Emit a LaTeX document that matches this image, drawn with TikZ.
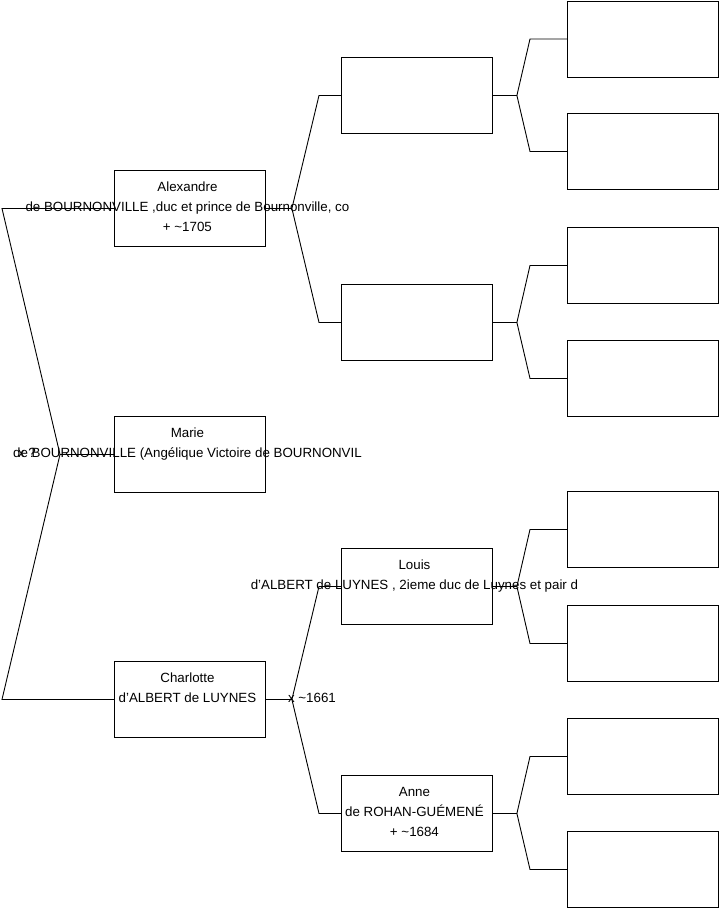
\documentclass[tikz,border=0pt]{standalone}
\usepackage{fontspec}
\setmainfont{Liberation Sans}
\begin{document}
\begin{tikzpicture}[x=1pt,y=-1pt,
 box/.style={draw=black, line width=0.9pt, minimum width=151pt, minimum height=76pt, inner sep=0pt, anchor=north west},
 txt/.style={anchor=north, align=center, inner sep=0pt, yshift=-7pt, xshift=-2.5pt, font=\fontsize{13.33}{20}\selectfont},
 lbl/.style={inner sep=0pt, font=\fontsize{13.33}{16}\selectfont},
 link/.style={draw=black, line width=0.9pt}]
\useasboundingbox (0,0) rectangle (719,908);
% level 1
\node[box] (a) at (114,170) {};
\node[box] (m) at (114,416) {};
\node[box] (c) at (114,661) {};
% level 2
\node[box] (p1) at (341,57) {};
\node[box] (p2) at (341,284) {};
\node[box] (l) at (341,548) {};
\node[box] (an) at (341,775) {};
% level 3
\node[box] (g1) at (567,0.5) {};
\node[box] (g2) at (567,113) {};
\node[box] (g3) at (567,227) {};
\node[box] (g4) at (567,340) {};
\node[box] (g5) at (567,491) {};
\node[box] (g6) at (567,605) {};
\node[box] (g7) at (567,718) {};
\node[box] (g8) at (567,831) {};
% root fork
\draw[link] (m.west) -- ++(-54,0) coordinate (f0);
\draw[link] (f0) -- ([xshift=-112pt]a.west) -- (a.west);
\draw[link] (f0) -- ([xshift=-112pt]c.west) -- (c.west);
% level 1 -> 2
\draw[link] (a.east) -- ++(26,0) coordinate (fa) -- ([xshift=-22pt]p1.west) -- (p1.west);
\draw[link] (fa) -- ([xshift=-22pt]p2.west) -- (p2.west);
\draw[link] (c.east) -- ++(26,0) coordinate (fc) -- ([xshift=-22pt]l.west) -- (l.west);
\draw[link] (fc) -- ([xshift=-22pt]an.west) -- (an.west);
% level 2 -> 3
\draw[link] (p1.east) -- ++(24,0) coordinate (fp1) -- ([xshift=-37pt]g1.west) -- (g1.west);
\draw[link] (fp1) -- ([xshift=-37pt]g2.west) -- (g2.west);
\draw[link] (p2.east) -- ++(24,0) coordinate (fp2) -- ([xshift=-37pt]g3.west) -- (g3.west);
\draw[link] (fp2) -- ([xshift=-37pt]g4.west) -- (g4.west);
\draw[link] (l.east) -- ++(24,0) coordinate (fl) -- ([xshift=-37pt]g5.west) -- (g5.west);
\draw[link] (fl) -- ([xshift=-37pt]g6.west) -- (g6.west);
\draw[link] (an.east) -- ++(24,0) coordinate (fan) -- ([xshift=-37pt]g7.west) -- (g7.west);
\draw[link] (fan) -- ([xshift=-37pt]g8.west) -- (g8.west);
% texts
\node[txt] (ta) at (a.north) {\strut Alexandre\\de BOURNONVILLE ,duc et prince de Bournonville, co\\+ \textasciitilde1705};
\node[txt] (tm) at (m.north) {\strut Marie\\de BOURNONVILLE (Angélique Victoire de BOURNONVIL};
\node[txt] (tc) at (c.north) {\strut Charlotte\\d'ALBERT de LUYNES};
\node[txt] (tl) at (l.north) {\strut Louis\\d'ALBERT de LUYNES , 2ieme duc de Luynes et pair d};
\node[txt] (tan) at (an.north) {\strut Anne\\de ROHAN-GUÉMENÉ\\+ \textasciitilde1684};
\node[lbl] (xm) at (27,453) {x ?};
\node[lbl] (xc) at (312,698) {x \textasciitilde1661};
\end{tikzpicture}
\end{document}
